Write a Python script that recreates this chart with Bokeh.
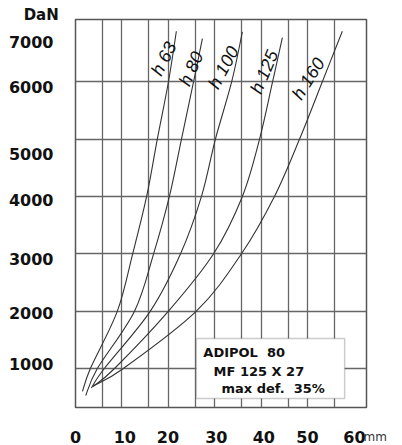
from bokeh.plotting import figure
from bokeh.models import FixedTicker, Label, BoxAnnotation, Range1d, ColumnDataSource
from bokeh.core.properties import value
from bokeh.embed import file_html
from bokeh.resources import INLINE
import math

# ---------------- data (deflection in mm, load in DaN) ----------------
series_names = ["h 63", "h 80", "h 100", "h 125", "h 160"]
defl_h63 = [1.5, 3.2, 9.0, 12.3, 15.3, 17.6, 20.0, 21.7]
load_h63 = [600, 1000, 2000, 3000, 4000, 5000, 6000, 6880]
defl_h80 = [2.2, 4.7, 12.7, 16.8, 20.2, 22.8, 25.4, 27.3]
load_h80 = [530, 1000, 2000, 3000, 4000, 5000, 6000, 6750]
defl_h100 = [3.4, 6.2, 16.1, 22.6, 27.1, 30.1, 33.6, 35.9]
load_h100 = [660, 1000, 2000, 3000, 4000, 5000, 6000, 6870]
defl_h125 = [3.7, 8.4, 20.0, 29.7, 35.9, 39.6, 42.4, 44.5]
load_h125 = [680, 1000, 2000, 3000, 4000, 5000, 6000, 6770]
defl_h160 = [3.9, 10.3, 26.0, 35.7, 42.8, 48.2, 53.1, 57.4]
load_h160 = [700, 1000, 2000, 3000, 4000, 5000, 6000, 6880]

x_tick_labels = ["0", "10", "20", "30", "40", "50", "60"]
y_tick_labels = ["1000", "2000", "3000", "4000", "5000", "6000", "7000"]
info_lines = ["ADIPOL  80", "MF 125 X 27", "max def.  35%"]

# ---------------- layout / style ----------------
x_label_at = [0, 10.6, 19.9, 30.3, 40.5, 49.9, 60.0]
y_label_at = [1070, 1975, 2910, 3940, 4740, 5900, 6700]
x_grid_at = [5.8, 10, 15.7, 20, 25.8, 30, 35.8, 40, 45.8, 50, 55.7]
y_grid_at = [1000, 2000, 3000, 4000, 5000, 6000]
label_offsets = [(-4.7, -23), (-2.4, -13), (-8.2, -14.3), (-8.2, -9.8), (-13.9, -3)]
label_angles = [63, 66, 62, 67, 58]

FONT = "DejaVu Sans"
NB = "\u00a0"

p = figure(width=402, height=445, output_backend="svg", toolbar_location=None,
           x_range=Range1d(0, 62.6), y_range=Range1d(320, 7085),
           min_border_left=75, min_border_right=36, min_border_top=19, min_border_bottom=37,
           background_fill_color="white", border_fill_color="white")

p.outline_line_color = "#555555"
p.outline_line_width = 1.5

p.xgrid.ticker = FixedTicker(ticks=x_grid_at)
p.ygrid.ticker = FixedTicker(ticks=y_grid_at)
for g in (p.xgrid, p.ygrid):
    g.grid_line_color = "#666666"
    g.grid_line_width = 1.3
    g.grid_line_alpha = 1.0

p.xaxis.ticker = FixedTicker(ticks=x_label_at)
p.xaxis.major_label_overrides = {v: t for v, t in zip(x_label_at, x_tick_labels)}
p.yaxis.ticker = FixedTicker(ticks=y_label_at)
p.yaxis.major_label_overrides = {v: t for v, t in zip(y_label_at, y_tick_labels)}
for ax in (p.xaxis, p.yaxis):
    ax.axis_line_color = None
    ax.major_tick_line_color = None
    ax.minor_tick_line_color = None
    ax.major_label_text_font = FONT
    ax.major_label_text_font_style = "bold"
    ax.major_label_text_font_size = "16px"
    ax.major_label_text_color = "#111111"
p.xaxis.major_label_standoff = 17
p.yaxis.major_label_standoff = 16


def bezier_parts(xs, ys):
    n = len(xs)
    out = {k: [] for k in ("x0", "y0", "x1", "y1", "cx0", "cy0", "cx1", "cy1")}
    for i in range(n - 1):
        i0 = max(i - 1, 0)
        i3 = min(i + 2, n - 1)
        out["x0"].append(xs[i]); out["y0"].append(ys[i])
        out["x1"].append(xs[i + 1]); out["y1"].append(ys[i + 1])
        out["cx0"].append(xs[i] + (xs[i + 1] - xs[i0]) / 6)
        out["cy0"].append(ys[i] + (ys[i + 1] - ys[i0]) / 6)
        out["cx1"].append(xs[i + 1] - (xs[i3] - xs[i]) / 6)
        out["cy1"].append(ys[i + 1] - (ys[i3] - ys[i]) / 6)
    return out


curves = [(defl_h63, load_h63), (defl_h80, load_h80), (defl_h100, load_h100),
          (defl_h125, load_h125), (defl_h160, load_h160)]

for (xs, ys), name, (dx, dy), ang in zip(curves, series_names, label_offsets, label_angles):
    src = ColumnDataSource(bezier_parts(xs, ys))
    p.bezier(x0="x0", y0="y0", x1="x1", y1="y1", cx0="cx0", cy0="cy0", cx1="cx1", cy1="cy1",
             source=src, line_color="#333333", line_width=1.1)
    k = ys.index(6000)
    p.text(x=[xs[k]], y=[ys[k]], text=[name.replace(" ", NB)], x_offset=dx, y_offset=dy,
           angle=math.radians(ang), text_align="center", text_baseline="middle",
           text_font=value("Liberation Sans"), text_font_style="italic",
           text_font_size="18px", text_color="#111111")

# info box
p.add_layout(BoxAnnotation(left=26.0, right=57.9, bottom=479, top=1522,
                           fill_color="white", fill_alpha=1.0,
                           line_color="#555555", line_width=1.5))
for txt, lx, ly in zip(info_lines, [27.5, 29.7, 31.4], [1278, 949, 653]):
    p.add_layout(Label(x=lx, y=ly, text=txt.replace(" ", NB), text_font=FONT,
                       text_font_style="bold", text_font_size="13px",
                       text_baseline="middle", text_align="left", text_color="#111111"))

# unit labels (placed in side panels so that they are not clipped to the frame)
p.add_layout(Label(x=-3.6, y=7170, text="DaN", text_font=FONT, text_font_style="bold",
                   text_font_size="15px", text_align="right", text_baseline="middle",
                   text_color="#111111"), "above")
p.add_layout(Label(x=61.95, y=-190, text="mm", text_font=FONT,
                   text_font_size="12px", text_align="left", text_baseline="middle",
                   text_color="#333333"), "right")

open("out.html", "w").write(file_html(p, INLINE))
